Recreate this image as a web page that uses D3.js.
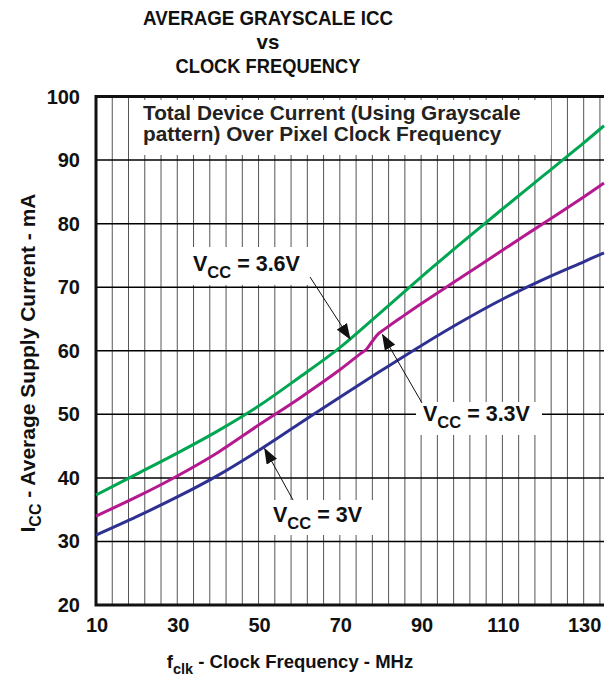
<!DOCTYPE html>
<html>
<head>
<meta charset="utf-8">
<script src="https://cdn.jsdelivr.net/npm/d3@7"></script>
<style>
  body { margin: 0; background: #fff; }
  svg text { font-family: "Liberation Sans", Arial, sans-serif; font-weight: bold; }
</style>
</head>
<body>
<div id="chart"></div>
<script>
// data
var freqTicks = [10, 30, 50, 70, 90, 110, 130];
var currentTicks = [20, 30, 40, 50, 60, 70, 80, 90, 100];

var freq36 = [10, 20, 30, 40, 50, 60, 70, 80, 90, 100, 110, 120, 130, 135];
var icc36  = [37.3, 40.6, 43.9, 47.4, 51.3, 55.8, 60.5, 66.0, 71.6, 77.0, 82.3, 87.5, 92.7, 95.4];

var freq33 = [10, 20, 30, 40, 50, 60, 70, 75, 76.5, 78, 79.5, 81, 85, 90, 100, 110, 120, 130, 135];
var icc33  = [34.0, 37.0, 40.3, 44.0, 48.3, 52.5, 57.0, 59.5, 60.2, 61.5, 62.7, 63.4, 65.2, 67.4, 71.6, 75.8, 80.0, 84.2, 86.4];

var freq30 = [10, 20, 30, 40, 50, 60, 70, 80, 90, 100, 110, 120, 130, 135];
var icc30  = [31.0, 33.9, 37.0, 40.4, 44.3, 48.5, 52.7, 56.8, 60.8, 64.6, 68.1, 71.2, 74.0, 75.4];

var series = [
  {name: "3.6V", f: freq36, v: icc36, color: "#00a651"},
  {name: "3.3V", f: freq33, v: icc33, color: "#b5198f"},
  {name: "3V",   f: freq30, v: icc30, color: "#2e3192"}
];

var width = 605, height = 683;
var plotLeft = 96, plotRight = 604, plotTop = 96.5, plotBottom = 605;

var svg = d3.select("#chart").append("svg")
    .attr("width", width)
    .attr("height", height);

var x = d3.scaleLinear().domain([10, 135]).range([plotLeft, plotRight]);
var y = d3.scaleLinear().domain([20, 100]).range([plotBottom, plotTop]);

//Title
var titleLines = [
  {t: "AVERAGE GRAYSCALE ICC", y: 25, len: 250},
  {t: "vs", y: 48.5, len: null},
  {t: "CLOCK FREQUENCY", y: 72.5, len: 185}
];
titleLines.forEach(function (l) {
  var tx = svg.append("text")
      .attr("x", 268)
      .attr("y", l.y)
      .attr("text-anchor", "middle")
      .attr("font-size", "20.5px")
      .attr("fill", "#111")
      .text(l.t);
  if (l.len) tx.attr("textLength", l.len).attr("lengthAdjust", "spacingAndGlyphs");
});

//Grid
var vGrid = d3.range(14, 135, 4);
svg.append("g")
    .selectAll("line")
    .data(vGrid)
    .enter()
    .append("line")
    .attr("x1", function (d) { return x(d); })
    .attr("x2", function (d) { return x(d); })
    .attr("y1", plotTop)
    .attr("y2", plotBottom)
    .attr("stroke", "#555")
    .attr("stroke-width", 1);

svg.append("g")
    .selectAll("line")
    .data(currentTicks.slice(1, -1))
    .enter()
    .append("line")
    .attr("x1", plotLeft)
    .attr("x2", plotRight)
    .attr("y1", function (d) { return y(d); })
    .attr("y2", function (d) { return y(d); })
    .attr("stroke", "#000")
    .attr("stroke-width", 1.5);

//White boxes behind the texts
var boxes = [
  [136, 100, 415, 55],
  [185, 247, 123, 38],
  [416, 402, 126, 33],
  [262, 500, 118, 35]
];
svg.append("g")
    .selectAll("rect")
    .data(boxes)
    .enter()
    .append("rect")
    .attr("x", function (d) { return d[0]; })
    .attr("y", function (d) { return d[1]; })
    .attr("width", function (d) { return d[2]; })
    .attr("height", function (d) { return d[3]; })
    .attr("fill", "#fff");

//Frame
svg.append("path")
    .attr("d", "M" + plotRight + "," + plotTop + "H" + plotLeft + "V" + plotBottom + "H" + plotRight)
    .attr("fill", "none")
    .attr("stroke", "#111")
    .attr("stroke-width", 3);

//Curves
var line = d3.line()
    .x(function (d) { return x(d[0]); })
    .y(function (d) { return y(d[1]); })
    .curve(d3.curveCatmullRom.alpha(0.5));

svg.append("g")
    .selectAll("path")
    .data(series)
    .enter()
    .append("path")
    .attr("d", function (s) { return line(d3.zip(s.f, s.v)); })
    .attr("fill", "none")
    .attr("stroke", function (s) { return s.color; })
    .attr("stroke-width", 3);

//Axes labels
svg.append("g")
    .selectAll("text")
    .data(currentTicks)
    .enter()
    .append("text")
    .attr("x", 80)
    .attr("y", function (d) { return y(d) + 7; })
    .attr("text-anchor", "end")
    .attr("font-size", "20px")
    .attr("fill", "#111")
    .text(function (d) { return d; });

svg.append("g")
    .selectAll("text")
    .data(freqTicks)
    .enter()
    .append("text")
    .attr("x", function (d) { return x(d) + 1; })
    .attr("y", 632)
    .attr("text-anchor", "middle")
    .attr("font-size", "20px")
    .attr("fill", "#111")
    .text(function (d) { return d; });

var xt = svg.append("text")
    .attr("x", 290)
    .attr("y", 668)
    .attr("text-anchor", "middle")
    .attr("font-size", "18.5px")
    .attr("fill", "#111");
xt.append("tspan").text("f");
xt.append("tspan").attr("font-size", "14.5px").attr("dy", 6).text("clk");
xt.append("tspan").attr("dy", -6).text(" - Clock Frequency - MHz");

var yt = svg.append("text")
    .attr("transform", "translate(35,363) rotate(-90)")
    .attr("text-anchor", "middle")
    .attr("font-size", "21px")
    .attr("fill", "#111");
yt.append("tspan").text("I");
yt.append("tspan").attr("font-size", "16px").attr("dy", 6).text("CC");
yt.append("tspan").attr("dy", -6).text(" - Average Supply Current - mA");

//Inset note
var note = ["Total Device Current (Using Grayscale", "pattern) Over Pixel Clock Frequency"];
svg.append("g")
    .selectAll("text")
    .data(note)
    .enter()
    .append("text")
    .attr("x", 143)
    .attr("y", function (d, i) { return 120 + i * 21; })
    .attr("font-size", "20.8px")
    .attr("fill", "#222")
    .text(function (d) { return d; });

//Annotations
svg.append("defs").append("marker")
    .attr("id", "arrow")
    .attr("markerUnits", "userSpaceOnUse")
    .attr("markerWidth", 16)
    .attr("markerHeight", 12)
    .attr("viewBox", "0 0 16 12")
    .attr("refX", 15)
    .attr("refY", 6)
    .attr("orient", "auto")
    .append("path")
    .attr("d", "M0,0 L16,6 L0,12 Z")
    .attr("fill", "#111");

function valueAt(s, f) {
  var i = d3.bisectRight(s.f, f) - 1;
  var t = (f - s.f[i]) / (s.f[i + 1] - s.f[i]);
  return s.v[i] + t * (s.v[i + 1] - s.v[i]);
}

var annotations = [
  {s: 0, tx: 193, ty: 271, from: [310, 277], tip: 72.5, off: 0, v: " = 3.6V"},
  {s: 1, tx: 423, ty: 421, from: [422, 403], tip: 80.5, off: 4, v: " = 3.3V"},
  {s: 2, tx: 273, ty: 522, from: [293, 500], tip: 51.5, off: 2, v: " = 3V"}
];

annotations.forEach(function (a) {
  var s = series[a.s];
  var t = svg.append("text")
      .attr("x", a.tx)
      .attr("y", a.ty)
      .attr("font-size", "21.5px")
      .attr("fill", "#111");
  t.append("tspan").text("V");
  t.append("tspan").attr("font-size", "16.5px").attr("dy", 7).text("CC");
  t.append("tspan").attr("dy", -7).text(a.v);

  svg.append("line")
      .attr("x1", a.from[0])
      .attr("y1", a.from[1])
      .attr("x2", x(a.tip))
      .attr("y2", y(valueAt(s, a.tip)) + a.off)
      .attr("stroke", "#111")
      .attr("stroke-width", 1)
      .attr("marker-end", "url(#arrow)");
});
</script>
</body>
</html>
